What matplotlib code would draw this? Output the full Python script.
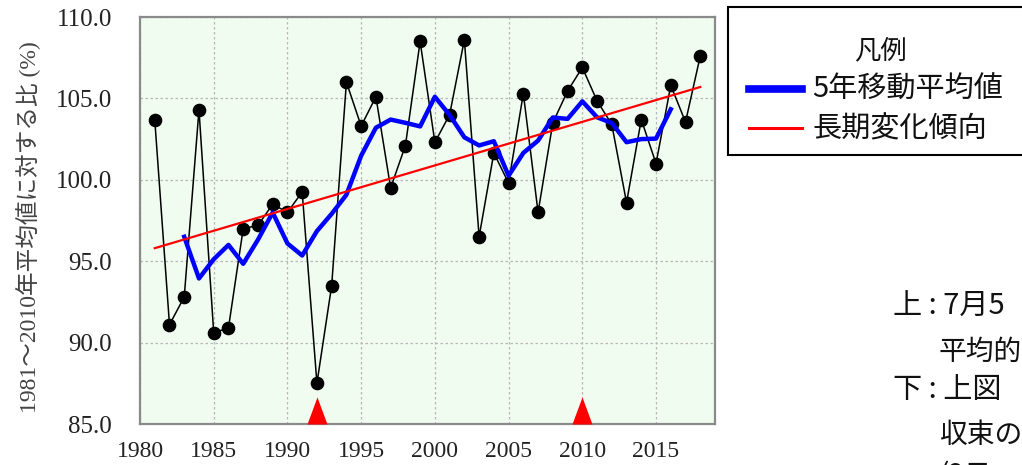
import matplotlib
matplotlib.use("Agg")
import matplotlib.pyplot as plt
from matplotlib.path import Path
from matplotlib.lines import Line2D
from matplotlib.patches import Rectangle
from matplotlib.ticker import FormatStrFormatter

# Annual ratio to the 1981-2010 mean (%)
years = list(range(1981, 2019))
ratio = [103.7, 91.1, 92.8, 104.3, 90.6, 90.9, 97.0, 97.2, 98.5, 98.0,
         99.25, 87.5, 93.5, 106.0, 103.3, 105.1, 99.5, 102.1, 108.5, 102.3,
         104.0, 108.6, 96.5, 101.65, 99.8, 105.3, 98.0, 103.5, 105.45, 106.9,
         104.85, 103.4, 98.6, 103.7, 101.0, 105.8, 103.55, 107.6]

# 5-year running mean (centred)
ma_years = list(range(1983, 2017))
ma_values = [96.5, 93.94, 95.12, 96.0, 94.84, 96.32, 97.99, 96.09, 95.35, 96.85,
             97.91, 99.08, 101.48, 103.2, 103.7, 103.5, 103.28, 105.1, 103.98, 102.61,
             102.11, 102.37, 100.25, 101.65, 102.41, 103.83, 103.74, 104.82, 103.84, 103.49,
             102.31, 102.5, 102.53, 104.33]

# Long-term trend
trend_years = [1981, 2018]
trend_values = [95.8, 105.7]

# Years flagged with a marker on the time axis
flag_years = [1992, 2010]

x_ticks = [1980, 1985, 1990, 1995, 2000, 2005, 2010, 2015]
y_ticks = [85.0, 90.0, 95.0, 100.0, 105.0, 110.0]

ylabel = "1981～2010年平均値に対する比 (%)"
legend_title = "凡例"
legend_labels = ["5年移動平均値", "長期変化傾向"]
note_lines = ["上 : 7月5", "平均的", "下 : 上図", "収束の", "(2日"]

SERIF = ["Liberation Serif", "Noto Sans CJK JP"]
SANS = ["Noto Sans CJK JP", "DejaVu Sans"]

MA_COLOR, MA_LW = "#0000ff", 3.2
TR_COLOR, TR_LW = "#ff0000", 1.6

W, H = 1022, 465
fig = plt.figure(figsize=(W / 100, H / 100), dpi=100)
fig.patch.set_facecolor("white")

ax = fig.add_axes([140 / W, 1 - 424 / H, (715 - 140) / W, (424 - 17) / H])
ax.set_facecolor("#effcef")
for s in ax.spines.values():
    s.set_color("#8a8a8a")
    s.set_linewidth(1.6)

ax.set_xlim(1980, 2019)
ax.set_ylim(85, 110)
ax.set_xticks(x_ticks)
ax.set_yticks(y_ticks)
ax.yaxis.set_major_formatter(FormatStrFormatter("%.1f"))
ax.tick_params(axis="both", length=0, colors="#222222")
ax.tick_params(axis="y", pad=20, labelsize=18)
ax.tick_params(axis="x", pad=12, labelsize=17)
for lab in ax.get_xticklabels() + ax.get_yticklabels():
    lab.set_family(SERIF)

ax.grid(True, color="#b8b8b8", linestyle=(0, (2, 2)), linewidth=0.9)
ax.set_axisbelow(True)

ax.plot(years, ratio, color="black", linewidth=1.1, marker="o",
        markersize=8.8, markerfacecolor="black", markeredgecolor="black", zorder=3)
ax.plot(ma_years, ma_values, color=MA_COLOR, linewidth=MA_LW, zorder=4)
ax.plot(trend_years, trend_values, color=TR_COLOR, linewidth=TR_LW, zorder=5)

# triangle with its base on the origin
tri = Path([(-0.37, 0.0), (0.37, 0.0), (0.0, 1.0), (-0.37, 0.0)],
           [Path.MOVETO, Path.LINETO, Path.LINETO, Path.CLOSEPOLY])
ax.plot(flag_years, [85.0] * len(flag_years), linestyle="none", marker=tri,
        markersize=39, color="#ff0000", markeredgewidth=0, clip_on=False, zorder=6)

fig.text(29 / W, 1 - 227 / H, ylabel, rotation=90, ha="center", va="center",
         fontsize=17, color="#444444", family=SERIF)

# legend box
fig.add_artist(Rectangle((728 / W, 1 - 155 / H), 400 / W, 148 / H,
                         transform=fig.transFigure, facecolor="white",
                         edgecolor="black", linewidth=1.5))
fig.text(880 / W, 1 - 51 / H, legend_title, ha="center", va="center",
         fontsize=19, family=SANS, color="#111111")
for (yy, col, lw, lab) in [(89, MA_COLOR, 5.5, legend_labels[0]),
                           (128, TR_COLOR, 2.2, legend_labels[1])]:
    fig.add_artist(Line2D([749 / W, 802 / W], [1 - yy / H, 1 - yy / H],
                          transform=fig.transFigure, color=col, linewidth=lw))
    fig.text(812 / W, 1 - (yy + 1) / H, lab, ha="left", va="center",
             fontsize=21, family=SANS, color="#111111")

# side note
note_x = [893, 939, 893, 939, 939]
note_y = [307, 352, 390, 435, 476]
note_size = [21, 20, 21, 20, 20]
for nx, ny, fs, txt in zip(note_x, note_y, note_size, note_lines):
    fig.text(nx / W, 1 - ny / H, txt, ha="left", va="center",
             fontsize=fs, family=SANS, color="#111111")

fig.savefig("out.png", dpi=100)
